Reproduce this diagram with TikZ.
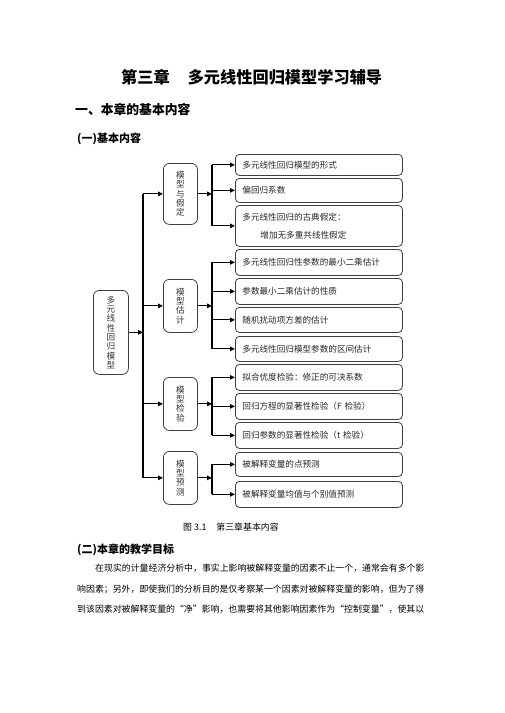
\documentclass[tikz,border=0pt]{standalone}
\usepackage{fontspec}
\setmainfont{Noto Sans CJK SC}
\usetikzlibrary{arrows.meta}
\newcommand\myoq{\makebox[1em][r]{“}}
\newcommand\mycq{\makebox[1em][l]{”}}
\newcommand\mytightlines{\lineskiplimit=-100pt\relax\lineskip=0pt\relax}
\begin{document}
\begin{tikzpicture}[x=1pt,y=-1pt,
  box/.style={draw=black!75, line width=0.8pt},
  leaf/.style={box, rounded corners=4pt, anchor=north west, inner xsep=7pt, inner ysep=0pt,
    text width=153pt, align=left, font=\fontsize{8.6}{18}\selectfont, text=black!85},
  vbox/.style={box, rounded corners=6pt, anchor=north west, inner sep=0pt, align=center,
    font=\fontsize{8.6}{9.3}\selectfont\mytightlines, text=black!80},
  conn/.style={line width=1.1pt},
  arr/.style={conn, -{Triangle[length=5pt,width=4.5pt]}},
  plain/.style={anchor=west, inner sep=0pt},
  para/.style={plain, font=\fontsize{8.9}{10}\selectfont},
]
\useasboundingbox (0,0) rectangle (504,713);

% headings
\node[plain, font=\fontsize{16.2}{17}\selectfont\bfseries] (title) at (121,77) {第三章\hspace{18pt}多元线性回归模型学习辅导};
\node[plain, font=\fontsize{12.8}{14}\selectfont\bfseries] (h1) at (75,110) {一、本章的基本内容};
\node[plain, font=\fontsize{11}{12}\selectfont\bfseries] (h2) at (77,139) {(一)基本内容};

% main box and groups
\node[vbox, minimum width=35pt, minimum height=84pt] (main) at (93,290) {多\\元\\线\\性\\回\\归\\模\\型};
\node[vbox, minimum width=34pt, minimum height=61pt] (g1) at (163,163) {模\\型\\与\\假\\定};
\node[vbox, minimum width=34pt, minimum height=53pt] (g2) at (163,279) {模\\型\\估\\计};
\node[vbox, minimum width=34pt, minimum height=53pt] (g3) at (163,377) {模\\型\\检\\验};
\node[vbox, minimum width=34pt, minimum height=53pt] (g4) at (163,451) {模\\型\\预\\测};

% leaves
\node[leaf, minimum height=21pt] (l1) at (235,154) {多元线性回归模型的形式};
\node[leaf, minimum height=24pt] (l2) at (235,178) {偏回归系数};
\node[leaf, minimum height=41pt] (l3) at (235,205) {多元线性回归的古典假定：\\\hspace*{18pt}增加无多重共线性假定};
\node[leaf, minimum height=26pt] (l4) at (235,249) {多元线性回归性参数的最小二乘估计};
\node[leaf, minimum height=26pt] (l5) at (235,278) {参数最小二乘估计的性质};
\node[leaf, minimum height=25pt] (l6) at (235,307) {随机扰动项方差的估计};
\node[leaf, minimum height=25pt] (l7) at (235,336) {多元线性回归模型参数的区间估计};
\node[leaf, minimum height=26pt] (l8) at (235,364) {拟合优度检验：修正的可决系数};
\node[leaf, minimum height=26pt] (l9) at (235,393) {回归方程的显著性检验（F 检验）};
\node[leaf, minimum height=26pt] (l10) at (235,422) {回归参数的显著性检验（t 检验）};
\node[leaf, minimum height=24pt] (l11) at (235,452) {被解释变量的点预测};
\node[leaf, minimum height=26pt] (l12) at (235,481) {被解释变量均值与个别值预测};

% connectors
\coordinate (va) at (143,0);
\coordinate (bus) at (212,0);
\draw[arr] (main.east) -- (main.east -| va);
\draw[conn] (g1.west -| va) -- (g4.west -| va);
\foreach \g in {g1,g2,g3,g4} { \draw[arr] (\g.west -| va) -- (\g.west); }

\draw[arr] (g1.east) -- (g1.east -| bus);
\draw[conn] (l1.west -| bus) -- (l3.west -| bus);
\foreach \l in {l1,l2,l3} { \draw[arr] (\l.west -| bus) -- (\l.west); }

\draw[arr] (g2.east) -- (g2.east -| bus);
\draw[conn] (l4.west -| bus) -- (l7.west -| bus);
\foreach \l in {l4,l5,l6,l7} { \draw[arr] (\l.west -| bus) -- (\l.west); }

\draw[arr] (g3.east) -- (g3.east -| bus);
\draw[conn] (l8.west -| bus) -- (l10.west -| bus);
\foreach \l in {l8,l9,l10} { \draw[arr] (\l.west -| bus) -- (\l.west); }

\draw[arr] (g4.east) -- (g4.east -| bus);
\draw[conn] (l11.west -| bus) -- (l12.west -| bus);
\foreach \l in {l11,l12} { \draw[arr] (\l.west -| bus) -- (\l.west); }

% caption and following text
\node[para] (cap) at (183,527) {图 3.1\hspace{10pt}第三章基本内容};
\node[plain, font=\fontsize{11}{12}\selectfont\bfseries] (h3) at (77,550) {(二)本章的教学目标};
\node[para] (p1) at (95,568) {在现实的计量经济分析中，事实上影响被解释变量的因素不止一个，通常会有多个影};
\node[para] (p2) at (77,589) {响因素；另外，即使我们的分析目的是仅考察某一个因素对被解释变量的影响，但为了得};
\node[para] (p3) at (77,609) {到该因素对被解释变量的\myoq 净\mycq 影响，也需要将其他影响因素作为\myoq 控制变量\mycq ，使其以};
\end{tikzpicture}
\end{document}
